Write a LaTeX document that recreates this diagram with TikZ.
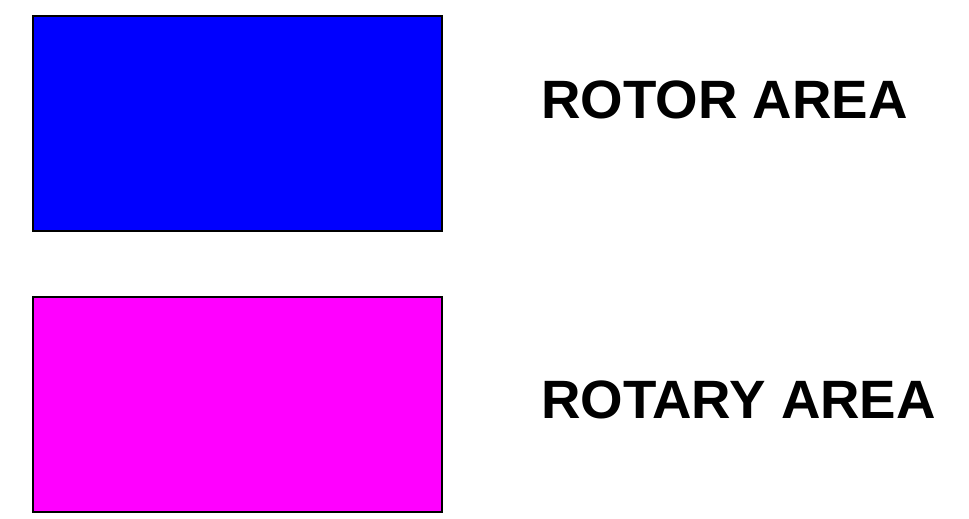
\documentclass[tikz,border=0pt]{standalone}
\usepackage{fontspec}
\setmainfont{Liberation Sans}
\definecolor{areablue}{RGB}{0,0,255}
\definecolor{areamagenta}{RGB}{255,0,255}
\begin{document}
\begin{tikzpicture}[x=1pt,y=-1pt,
  areabox/.style={draw=black,line width=1.5pt},
  arealabel/.style={anchor=base west,inner sep=0pt,xscale=1.012,font=\fontsize{54}{60}\selectfont\bfseries}]
\useasboundingbox (0,0) rectangle (969,519);
\filldraw[areabox,fill=areablue] (33,16) rectangle (442,231);
\filldraw[areabox,fill=areamagenta] (33,297) rectangle (442,512);
\node[arealabel] (rotor) at (541,118) {ROTOR AREA};
\node[arealabel] (rotary) at (541,418) {ROTARY AREA};
\end{tikzpicture}
\end{document}
